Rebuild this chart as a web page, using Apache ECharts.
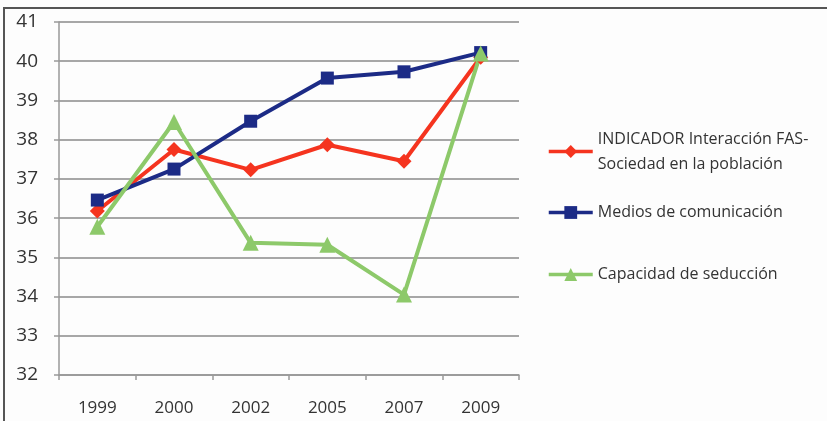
<!DOCTYPE html>
<html><head><meta charset="utf-8">
<script src="https://cdn.jsdelivr.net/npm/echarts@6/dist/echarts.min.js"></script>
<style>html,body{margin:0;padding:0;background:#fdfdfd}#c{width:827px;height:421px}</style>
</head><body><div id="c"></div>
<script>
var categories = ['1999','2000','2002','2005','2007','2009'];
var indicador = [36.18, 37.75, 37.23, 37.87, 37.45, 40.1];
var medios = [36.46, 37.25, 38.47, 39.57, 39.73, 40.22];
var capacidad = [35.78, 38.45, 35.37, 35.32, 34.05, 40.2];
var names = ['INDICADOR Interacción FAS-\nSociedad en la población', 'Medios de comunicación', 'Capacidad de seducción'];
var yMin = 32, yMax = 41, yStep = 1;

var FONT = 'Open Sans';
var chart = echarts.init(document.getElementById('c'));
function lg(name, top, pad){
  return {data:[name], left:542, top:top, itemWidth:44, itemHeight:16, itemGap:0,
    lineStyle:{width:3.5},
    textStyle:{fontFamily:FONT, fontSize:16, color:'#333', lineHeight:25, padding:pad}};
}
chart.setOption({
  backgroundColor:'#fdfdfd',
  animation:false,
  graphic:[{type:'polyline', shape:{points:[[4,421],[4,8],[827,8]]}, style:{stroke:'#555', lineWidth:2, fill:null}}],
  legend:[lg(names[0],109,[25,0,0,0]), lg(names[1],195,[0,0,0,0]), lg(names[2],257,[0,0,0,0])],
  grid:{left:59, right:308, top:22, bottom:46},
  xAxis:{type:'category', data:categories, boundaryGap:true,
    axisLine:{lineStyle:{color:'#999', width:1.5}},
    axisTick:{show:true, length:5, lineStyle:{color:'#999', width:1.5}},
    axisLabel:{fontFamily:FONT, fontSize:17, color:'#333', margin:25}},
  yAxis:{type:'value', min:yMin, max:yMax, interval:yStep,
    axisLine:{show:true, lineStyle:{color:'#999', width:1.5}},
    axisTick:{show:true, length:5, lineStyle:{color:'#999', width:1.5}},
    splitLine:{lineStyle:{color:'#8a8a8a', width:1.5}},
    axisLabel:{fontFamily:FONT, fontSize:19, color:'#333', margin:21}},
  series:[
    {name:names[0], type:'line', data:indicador, symbol:'diamond', symbolSize:15,
      lineStyle:{color:'#f5341f', width:4}, itemStyle:{color:'#f5341f'}},
    {name:names[1], type:'line', data:medios, symbol:'rect', symbolSize:13,
      lineStyle:{color:'#1c2b86', width:4}, itemStyle:{color:'#1c2b86'}},
    {name:names[2], type:'line', data:capacidad, symbol:'triangle', symbolSize:16,
      lineStyle:{color:'#8dc96a', width:4}, itemStyle:{color:'#8dc96a'}}
  ]
});
</script></body></html>
